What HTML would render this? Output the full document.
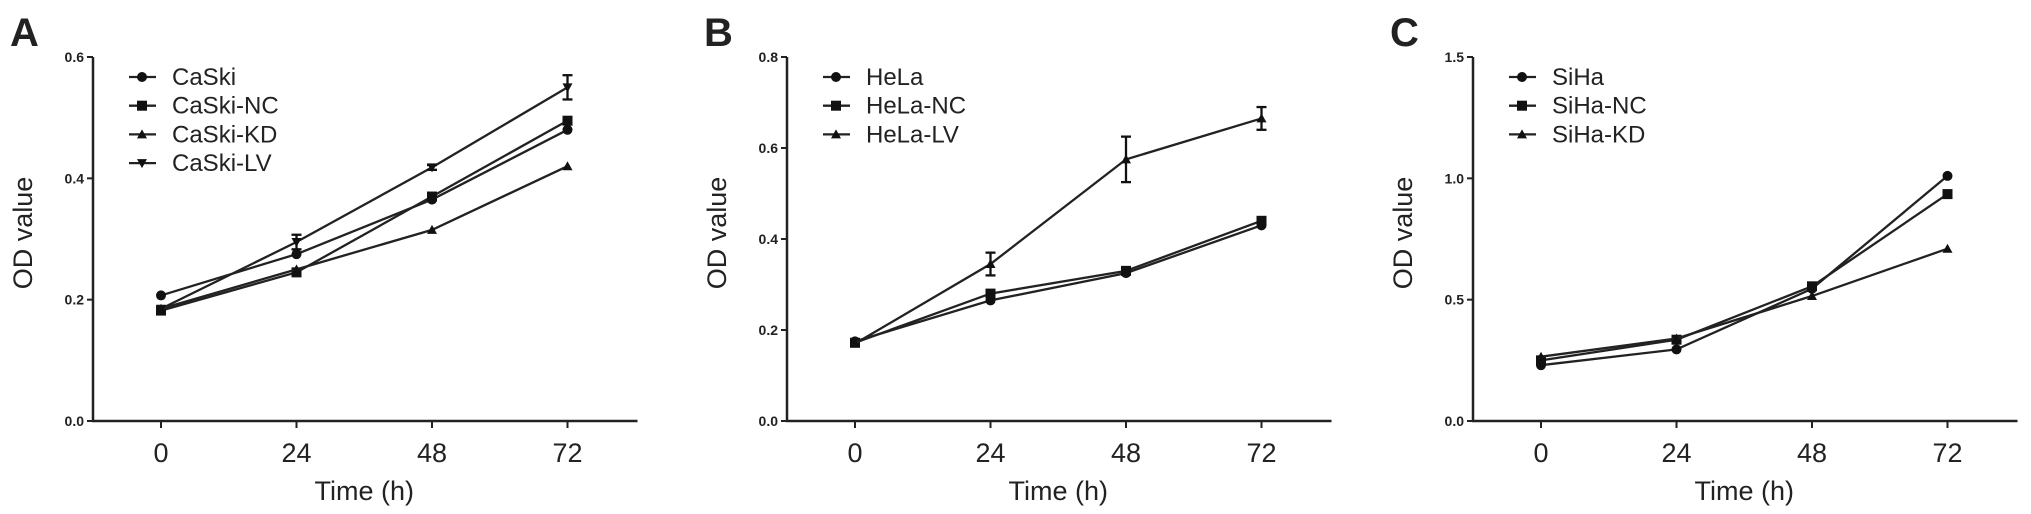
<!DOCTYPE html>
<html><head><meta charset="utf-8"><style>
body{margin:0;background:#fff}svg{display:block}
text{font-family:"Liberation Sans",Arial,sans-serif;fill:#222}
</style></head><body>
<svg id="fig" width="2031" height="514"></svg>
<script>
const timepoints=[0,24,48,72];
const aNames=["CaSki","CaSki-NC","CaSki-KD","CaSki-LV"];
const aCaSki=[0.207,0.275,0.365,0.48];
const aNC=[0.182,0.245,0.37,0.495];
const aKD=[0.185,0.25,0.315,0.42];
const aLV=[0.185,0.295,0.418,0.55];
const aLVerr=[0,0.012,0.004,0.02];
const aTicks=["0.0","0.2","0.4","0.6"];
const bNames=["HeLa","HeLa-NC","HeLa-LV"];
const bHeLa=[0.175,0.265,0.325,0.43];
const bNC=[0.172,0.28,0.33,0.44];
const bLV=[0.17,0.345,0.575,0.665];
const bLVerr=[0,0.025,0.05,0.025];
const bTicks=["0.0","0.2","0.4","0.6","0.8"];
const cNames=["SiHa","SiHa-NC","SiHa-KD"];
const cSiHa=[0.23,0.295,0.545,1.01];
const cNC=[0.25,0.335,0.555,0.935];
const cKD=[0.265,0.34,0.515,0.71];
const cTicks=["0.0","0.5","1.0","1.5"];

const NS="http://www.w3.org/2000/svg";
const svg=document.getElementById('fig');
function mk(tag,attrs,parent){const e=document.createElementNS(NS,tag);for(const k in attrs)e.setAttribute(k,attrs[k]);(parent||svg).appendChild(e);return e;}
function marker(g,shape,x,y){
  if(shape==='circle')return mk('circle',{cx:x,cy:y,r:5,fill:'#111'},g);
  if(shape==='square')return mk('rect',{x:x-5,y:y-5,width:10,height:10,fill:'#111'},g);
  if(shape==='tri')return mk('polygon',{points:`${x-5},${y+4} ${x+5},${y+4} ${x},${y-5}`,fill:'#111'},g);
  return mk('polygon',{points:`${x-5},${y-4} ${x+5},${y-4} ${x},${y+5}`,fill:'#111'},g);
}
function panel(o){
  const g=mk('g',{});
  
  
  const top=57,bot=421,ax=o.ax,x0=ax+68,step=135.5,xend=x0+3*step+70;
  const ys=v=>bot-v/o.ymax*(bot-top);
  const xs=t=>x0+t/24*step;
  const L=mk('text',{x:o.ax-83,y:46,'font-size':40,'font-weight':'bold'},g);L.textContent=o.letter;
  
  const ya=mk('line',{x1:ax,y1:top,x2:ax,y2:bot+1,stroke:'#222','stroke-width':2.5},g);
  
  const xa=mk('line',{x1:ax-1,y1:bot,x2:xend,y2:bot,stroke:'#222','stroke-width':2.5},g);
  
  o.ticks.forEach(t=>{const y=ys(parseFloat(t));
    mk('line',{x1:ax-6,y1:y,x2:ax,y2:y,stroke:'#222','stroke-width':2},g);
    const tx=mk('text',{x:ax-9,y:y+5,'font-size':14,'font-weight':'bold','text-anchor':'end'},g);tx.textContent=t;
    });
  timepoints.forEach(t=>{const x=xs(t);
    mk('line',{x1:x,y1:bot,x2:x,y2:bot+7,stroke:'#222','stroke-width':2},g);
    const tx=mk('text',{x:x,y:462,'font-size':27,'text-anchor':'middle'},g);tx.textContent=t;
    });
  const xt=mk('text',{x:(x0+xs(72))/2,y:500,'font-size':27,'text-anchor':'middle'},g);xt.textContent='Time (h)';
  
  const yt=mk('text',{x:0,y:0,'font-size':27,'text-anchor':'middle',transform:`translate(${ax-61},${(top+bot)/2-6}) rotate(-90)`},g);yt.textContent='OD value';
  
  o.series.forEach((s,i)=>{
    const sg=mk('g',{},g);
    
    
    mk('polyline',{points:s.v.map((v,j)=>xs(timepoints[j])+','+ys(v)).join(' '),fill:'none',stroke:'#222','stroke-width':2.3},sg);
    s.v.forEach((v,j)=>{const x=xs(timepoints[j]);
      if(s.e&&s.e[j]>0){const y1=ys(v+s.e[j]),y2=ys(v-s.e[j]);
        mk('line',{x1:x,y1:y1,x2:x,y2:y2,stroke:'#111','stroke-width':2.3},sg);
        mk('line',{x1:x-5,y1:y1,x2:x+5,y2:y1,stroke:'#111','stroke-width':2.3},sg);
        mk('line',{x1:x-5,y1:y2,x2:x+5,y2:y2,stroke:'#111','stroke-width':2.3},sg);}
      marker(sg,s.m,x,ys(v));});
    const ly=77+i*28.7,lx=ax+36;
    const lg=mk('g',{},g);
    
    mk('line',{x1:lx,y1:ly,x2:lx+27,y2:ly,stroke:'#222','stroke-width':2.3},lg);
    marker(lg,s.m,lx+13,ly);
    const lt=mk('text',{x:lx+43,y:ly+8,'font-size':24},lg);lt.textContent=o.names[i];
  });
}
panel({letter:'A',ax:93,ymax:0.6,ticks:aTicks,names:aNames,series:[{v:aCaSki,m:'circle'},{v:aNC,m:'square'},{v:aKD,m:'tri'},{v:aLV,m:'dtri',e:aLVerr}]});
panel({letter:'B',ax:787,ymax:0.8,ticks:bTicks,names:bNames,series:[{v:bHeLa,m:'circle'},{v:bNC,m:'square'},{v:bLV,m:'tri',e:bLVerr}]});
panel({letter:'C',ax:1473,ymax:1.5,ticks:cTicks,names:cNames,series:[{v:cSiHa,m:'circle'},{v:cNC,m:'square'},{v:cKD,m:'tri'}]});
</script>
</body></html>
